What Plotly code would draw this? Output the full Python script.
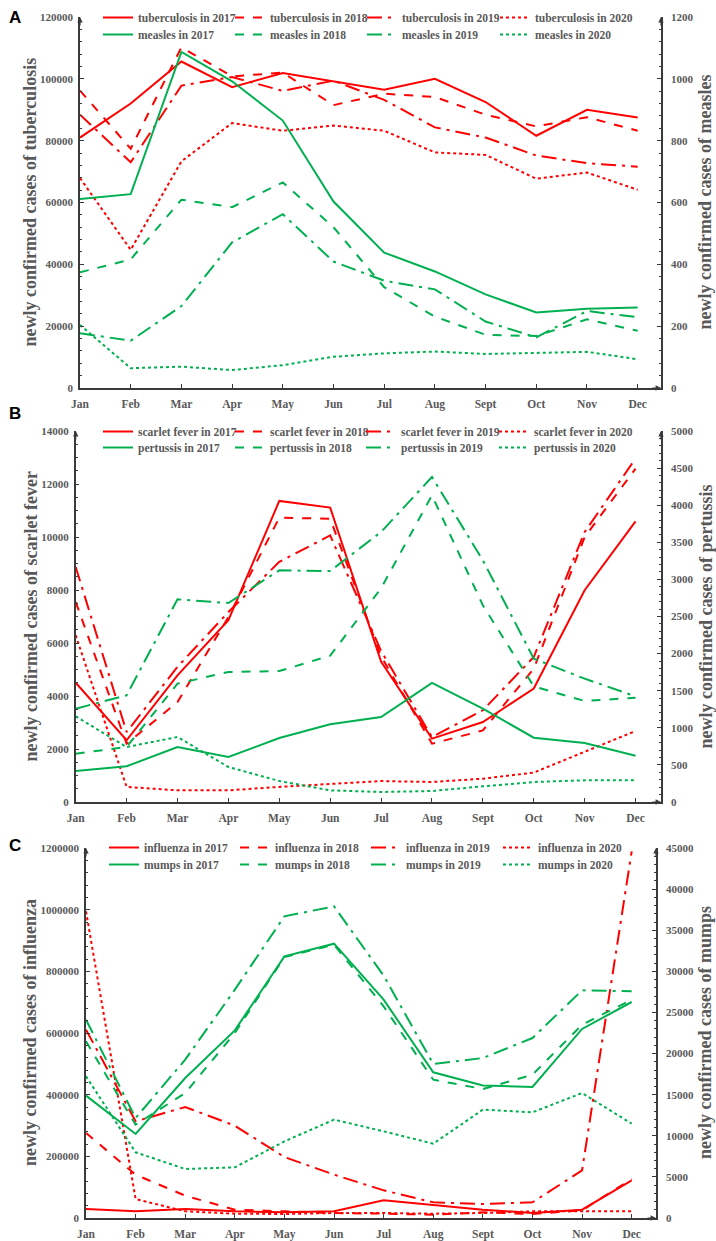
import plotly.graph_objects as go

months = ["Jan", "Feb", "Mar", "Apr", "May", "Jun", "Jul", "Aug", "Sept", "Oct", "Nov", "Dec"]
years = ["2017", "2018", "2019", "2020"]

# Panel A
tuberculosis = {
    "2017": [81000, 92000, 105600, 97300, 101900, 99200, 96500, 100000, 92500, 81600, 90000, 87500],
    "2018": [96200, 77400, 110200, 100800, 102000, 91500, 95200, 94100, 88400, 84600, 87600, 83200],
    "2019": [88400, 73000, 97800, 100600, 96100, 99400, 93200, 84300, 81000, 75200, 72700, 71600],
    "2020": [67900, 44700, 73300, 85700, 83200, 84900, 83200, 76200, 75400, 67700, 69700, 64100],
}
measles = {
    "2017": [611, 627, 1087, 992, 865, 603, 438, 377, 303, 244, 256, 260],
    "2018": [374, 416, 609, 585, 665, 520, 326, 231, 172, 168, 222, 185],
    "2019": [177, 153, 265, 471, 562, 409, 347, 319, 215, 164, 249, 229],
    "2020": [204, 64, 69, 58, 74, 101, 112, 118, 110, 114, 117, 93],
}
# Panel B
scarlet_fever = {
    "2017": [4500, 2330, 4780, 6860, 11360, 11110, 5300, 2390, 3020, 4280, 7990, 10590],
    "2018": [7550, 2200, 3770, 6980, 10730, 10690, 5500, 2200, 2700, 5030, 10000, 12580],
    "2019": [8870, 2640, 5100, 7170, 9060, 10060, 5700, 2450, 3460, 5470, 10190, 12960],
    "2020": [6290, 570, 440, 440, 570, 670, 790, 755, 880, 1110, 1910, 2680],
}
pertussis = {
    "2017": [418, 481, 741, 606, 862, 1047, 1145, 1604, 1258, 867, 795, 624],
    "2018": [651, 741, 1595, 1752, 1765, 1972, 2880, 4133, 2650, 1559, 1361, 1406],
    "2019": [1258, 1437, 2731, 2682, 3122, 3113, 3639, 4380, 3257, 1932, 1662, 1424],
    "2020": [1154, 741, 876, 472, 283, 157, 135, 148, 211, 270, 292, 292],
}
# Panel C
influenza = {
    "2017": [29200, 21600, 29200, 21600, 18400, 21600, 57300, 41000, 27000, 16200, 27000, 122000],
    "2018": [275700, 140500, 72400, 27000, 21600, 16200, 14000, 10800, 18400, 13000, 24900, 126500],
    "2019": [610800, 313500, 360000, 299400, 197800, 140500, 89700, 50800, 45400, 50800, 154600, 1189000],
    "2020": [994500, 61600, 21600, 14000, 13000, 16200, 16200, 14000, 16200, 21600, 21600, 21600],
}
mumps = {
    "2017": [14880, 10220, 17030, 22820, 31820, 33360, 26550, 17720, 16130, 15930, 22990, 26270],
    "2018": [21490, 11350, 15200, 22500, 31740, 33240, 25740, 16820, 15690, 17430, 23510, 26550],
    "2019": [24120, 12160, 19260, 27770, 36690, 37900, 29470, 18730, 19460, 21890, 27690, 27570],
    "2020": [17230, 7990, 5960, 6160, 9320, 11960, 10540, 9040, 13180, 12850, 15200, 11470],
}

W, H = 716, 1241
RED = "#FF0000"
GREEN = "#00B050"
DASH = {"2017": "solid", "2018": "dash", "2019": "longdashdot", "2020": "dot"}
SERIF = "Liberation Serif"
GRAY = "#595959"
AXC = "#3a3a3a"

panels = [
    dict(letter="A", lname="tuberculosis", ldata=tuberculosis, rname="measles", rdata=measles,
         lmax=120000, ldt=20000, lmn=4000, rmax=1200, rdt=200, rmn=40,
         xpx=(80, 661), ypx=(388, 17), xmax=11.46, legrows=(17, 34), legx=[143, 275, 407, 540], letter_y=18),
    dict(letter="B", lname="scarlet fever", ldata=scarlet_fever, rname="pertussis", rdata=pertussis,
         lmax=14000, ldt=2000, lmn=500, rmax=5000, rdt=500, rmn=100,
         xpx=(75.7, 661), ypx=(802, 431), xmax=11.5, legrows=(431, 447), legx=[143, 275, 406, 539], letter_y=413),
    dict(letter="C", lname="influenza", ldata=influenza, rname="mumps", rdata=mumps,
         lmax=1200000, ldt=200000, lmn=40000, rmax=45000, rdt=5000, rmn=1000,
         xpx=(86, 656), ypx=(1218, 848), xmax=11.49, legrows=(847, 864), legx=[149, 280, 411, 543], letter_y=846),
]

fig = go.Figure()
layout = dict(
    template="none",
    width=W, height=H, autosize=False,
    margin=dict(l=0, r=0, t=0, b=0, autoexpand=False),
    paper_bgcolor="white", plot_bgcolor="white",
    showlegend=True,
    annotations=[],
)

tickfont = dict(family=SERIF, size=11, color=GRAY, weight="bold")
legcount = 0
legfont = dict(family=SERIF, size=11.5, color=GRAY, weight="bold")

for i, p in enumerate(panels):
    n = i + 1
    xa = "x" if n == 1 else f"x{n}"
    yl = f"y{2*n-1}" if n > 1 else "y"
    yr = f"y{2*n}"
    for side, name, data, color, yax, row in (("l", p["lname"], p["ldata"], RED, yl, 0),
                                              ("r", p["rname"], p["rdata"], GREEN, yr, 1)):
        for c, yr_ in enumerate(years):
            legcount += 1
            ln = "legend" if legcount == 1 else f"legend{legcount}"
            fig.add_trace(go.Scatter(
                x=months, y=data[yr_], mode="lines", name=f"{name} in {yr_}",
                line=dict(color=color, width=2, dash=DASH[yr_]), xaxis=xa, yaxis=yax, legend=ln))
            layout[ln] = dict(
                orientation="v", x=(p["legx"][c] - 45) / W, xanchor="left",
                y=1 - (p["legrows"][row] - 14) / H, yanchor="top",
                itemwidth=30, tracegroupgap=0, font=legfont,
                bgcolor="rgba(0,0,0,0)", borderwidth=0,
            )

    x0, x1 = p["xpx"][0] / W, p["xpx"][1] / W
    yb, yt = (H - p["ypx"][0]) / H, (H - p["ypx"][1]) / H
    xkey = "xaxis" if n == 1 else f"xaxis{n}"
    ylkey = "yaxis" if n == 1 else f"yaxis{2*n-1}"
    yrkey = f"yaxis{2*n}"
    layout[xkey] = dict(
        domain=[x0, x1], anchor=yl, type="category", range=[0, p["xmax"]], automargin=False,
        showline=True, linecolor=AXC, linewidth=1.5, ticks="inside", ticklen=4, tickcolor=AXC,
        showgrid=False, zeroline=False, tickfont=dict(family=SERIF, size=11.5, color=GRAY, weight="bold"),
        ticklabelstandoff=4,
    )
    layout[ylkey] = dict(
        domain=[yb, yt], anchor=xa, range=[0, p["lmax"]], dtick=p["ldt"], tick0=0, automargin=False,
        showline=True, linecolor=AXC, linewidth=1.5, ticks="inside", ticklen=4, tickcolor=AXC,
        minor=dict(ticks="inside", dtick=p["lmn"], ticklen=2.5, tickcolor=AXC),
        showgrid=False, zeroline=False, tickfont=tickfont, tickformat="d", ticklabelstandoff=3,
    )
    layout[yrkey] = dict(
        domain=[yb, yt], anchor=xa, overlaying=yl, side="right", range=[0, p["rmax"]], dtick=p["rdt"], tick0=0,
        automargin=False,
        showline=True, linecolor=AXC, linewidth=1.5, ticks="inside", ticklen=4, tickcolor=AXC,
        minor=dict(ticks="inside", dtick=p["rmn"], ticklen=2.5, tickcolor=AXC),
        showgrid=False, zeroline=False, tickfont=tickfont, tickformat="d", ticklabelstandoff=6,
    )
    ymid = 1 - ((p["ypx"][0] + p["ypx"][1]) / 2) / H
    layout["annotations"] += [
        dict(text=p["letter"], x=15 / W, y=1 - p["letter_y"] / H, xref="paper", yref="paper",
             xanchor="center", yanchor="middle",
             showarrow=False, font=dict(family="Liberation Sans", size=17, color="black", weight="bold")),
        dict(text=f"newly confirmed cases of {p['lname']}", x=30 / W, y=ymid, xref="paper", yref="paper",
             xanchor="center", yanchor="middle",
             textangle=-90, showarrow=False, font=dict(family=SERIF, size=18, color=GRAY, weight="bold")),
        dict(text=f"newly confirmed cases of {p['rname']}", x=705 / W, y=ymid, xref="paper", yref="paper",
             xanchor="center", yanchor="middle",
             textangle=-90, showarrow=False, font=dict(family=SERIF, size=18, color=GRAY, weight="bold")),
        dict(text="", x=0, y=1, xref=f"{xa} domain", yref=f"{yl} domain", ax=0, ay=10,
             showarrow=True, arrowhead=2, arrowsize=0.9, arrowwidth=1.2, arrowcolor=AXC),
        dict(text="", x=1, y=1, xref=f"{xa} domain", yref=f"{yl} domain", ax=0, ay=10,
             showarrow=True, arrowhead=2, arrowsize=0.9, arrowwidth=1.2, arrowcolor=AXC),
        dict(text="", x=1, y=0, xref=f"{xa} domain", yref=f"{yl} domain", ax=-10, ay=0,
             showarrow=True, arrowhead=2, arrowsize=0.9, arrowwidth=1.2, arrowcolor=AXC),
    ]

fig.update_layout(**layout)
fig.write_html("out.html", config={"displayModeBar": False},
               post_script="document.body.style.margin='0';")
